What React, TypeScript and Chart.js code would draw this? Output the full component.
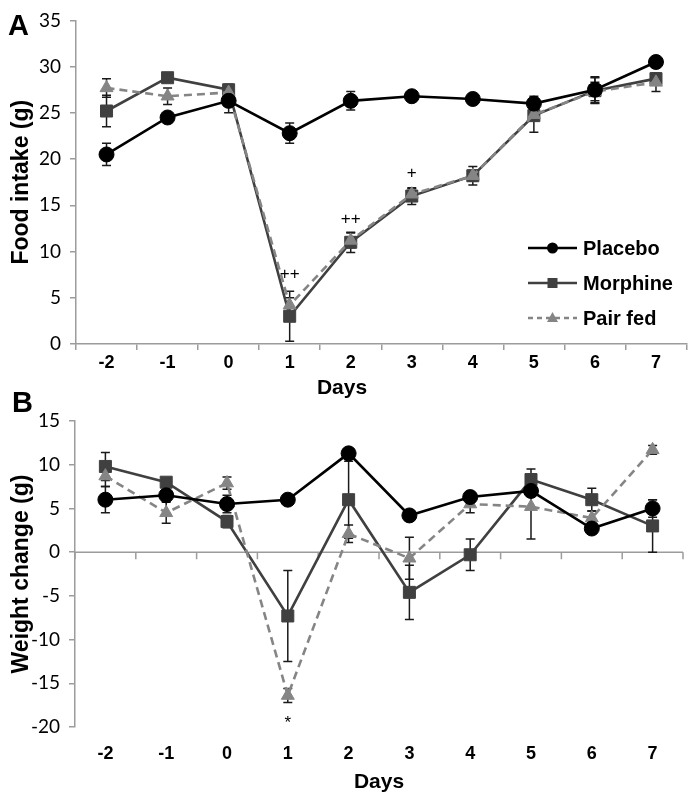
import React, { useEffect, useRef } from 'react';
import { Chart, registerables } from 'chart.js';

Chart.register(...registerables);

// ---------- data ----------
const days = ['-2', '-1', '0', '1', '2', '3', '4', '5', '6', '7'];
const seriesNames = ['Placebo', 'Morphine', 'Pair fed'];

// Panel A: food intake (g)
const placeboFood = [20.5, 24.5, 26.3, 22.8, 26.3, 26.8, 26.5, 26.0, 27.5, 30.5];
const placeboFoodErr = [1.2, 0.3, 1.3, 1.1, 1.0, 0.3, 0.3, 0.8, 1.4, 0.4];
const morphineFood = [25.2, 28.8, 27.5, 3.0, 11.0, 16.0, 18.2, 24.7, 27.4, 28.7];
const morphineFoodErr = [1.7, 0.3, 0.6, 2.7, 1.1, 0.9, 1.0, 1.8, 1.4, 0.3];
const pairFedFood = [27.7, 26.8, 27.2, 4.2, 11.2, 16.2, 18.2, 24.8, 27.3, 28.3];
const pairFedFoodErr = [1.0, 0.9, 0.4, 0.8, 0.8, 0.6, 0.6, 0.6, 1.0, 1.0];

// Panel B: weight change (g)
const placeboWeight = [6.0, 6.5, 5.5, 6.0, 11.3, 4.2, 6.3, 7.0, 2.7, 5.0];
const placeboWeightErr = [1.5, 0.5, 1.0, 0.3, 0.5, 0.3, 0.3, 0.3, 0.3, 1.0];
const morphineWeight = [9.8, 8.0, 3.5, -7.3, 6.0, -4.6, -0.3, 8.3, 6.0, 3.0];
const morphineWeightErr = [1.6, 0.4, 0.7, 5.2, 4.4, 3.1, 1.8, 1.2, 1.3, 3.0];
const pairFedWeight = [8.7, 4.5, 7.9, -16.4, 2.1, -0.7, 5.5, 5.2, 3.9, 11.7];
const pairFedWeightErr = [1.2, 1.2, 0.7, 0.8, 1.0, 2.4, 1.0, 3.7, 0.8, 0.5];

// y-axis ranges / ticks
const foodMin = 0;
const foodMax = 35;
const weightMin = -20;
const weightMax = 15;
const yStep = 5;

// significance marks
const foodMarkLabels = ['++', '++', '+'];
const foodMarkDays = ['1', '2', '3'];
const foodMarkValues = [7.5, 13.5, 18.5];
const weightMarkLabels = ['*'];
const weightMarkDays = ['1'];
const weightMarkValues = [-19.6];

// ---------- styles ----------
const BOLD = "'Liberation Sans', Arial, sans-serif";
const REG = "Lato, 'Open Sans', sans-serif";
const AXIS_GRAY = '#9c9c9c';
const COLORS = ['#000000', '#404040', '#858585'];
const STYLES = ['circle', 'rect', 'triangle'];
const RADII = [7.5, 8.5, 7.5];

function makeDatasets(values: number[][], errors: number[][]) {
  return values.map((data, i) => ({
    label: seriesNames[i],
    data,
    errors: errors[i],
    borderColor: COLORS[i],
    backgroundColor: COLORS[i],
    pointBackgroundColor: COLORS[i],
    pointBorderColor: COLORS[i],
    pointBorderWidth: 1,
    pointStyle: STYLES[i],
    pointRadius: RADII[i],
    pointHoverRadius: RADII[i],
    borderWidth: 2.6,
    borderDash: i === 2 ? [8, 5] : [],
    tension: 0,
    order: [0, 2, 1][i],
  }));
}

const errorBarPlugin = {
  id: 'errorBars',
  beforeDatasetsDraw(chart: any) {
    const ctx = chart.ctx;
    const ys = chart.scales.y;
    chart.data.datasets.forEach((ds: any, i: number) => {
      const errs = ds.errors;
      if (!errs) return;
      const meta = chart.getDatasetMeta(i);
      ctx.save();
      ctx.strokeStyle = '#1a1a1a';
      ctx.lineWidth = 1.5;
      ctx.setLineDash([]);
      meta.data.forEach((pt: any, j: number) => {
        const v = ds.data[j];
        const e = errs[j];
        const x = pt.x;
        const yt = ys.getPixelForValue(v + e);
        const yb = ys.getPixelForValue(v - e);
        ctx.beginPath();
        ctx.moveTo(x, yt);
        ctx.lineTo(x, yb);
        ctx.moveTo(x - 4.5, yt);
        ctx.lineTo(x + 4.5, yt);
        ctx.moveTo(x - 4.5, yb);
        ctx.lineTo(x + 4.5, yb);
        ctx.stroke();
      });
      ctx.restore();
    });
  },
};

function marksPlugin(labels: string[], markDays: string[], values: number[]) {
  return {
    id: 'marks',
    afterDatasetsDraw(chart: any) {
      const ctx = chart.ctx;
      const xs = chart.scales.x;
      const ys = chart.scales.y;
      ctx.save();
      ctx.fillStyle = '#000';
      ctx.font = "17px 'Liberation Sans', Arial, sans-serif";
      ctx.textAlign = 'center';
      ctx.textBaseline = 'middle';
      labels.forEach((t, i) => {
        const x = xs.getPixelForValue(days.indexOf(markDays[i]));
        const y = ys.getPixelForValue(values[i]);
        ctx.fillText(t, x, y);
      });
      ctx.restore();
    },
  };
}

function panelLetterPlugin(letter: string, x: number, y: number) {
  return {
    id: 'panelLetter',
    afterDraw(chart: any) {
      const ctx = chart.ctx;
      ctx.save();
      ctx.fillStyle = '#000';
      ctx.font = `bold 29px ${BOLD}`;
      ctx.textAlign = 'left';
      ctx.textBaseline = 'alphabetic';
      ctx.fillText(letter, x, y);
      ctx.restore();
    },
  };
}

const daysTitleAPlugin = {
  id: 'daysTitleA',
  afterDraw(chart: any) {
    const ctx = chart.ctx;
    ctx.save();
    ctx.fillStyle = '#000';
    ctx.font = `bold 21px ${BOLD}`;
    ctx.textAlign = 'center';
    ctx.textBaseline = 'middle';
    ctx.fillText('Days', 342, 388);
    ctx.restore();
  },
};

const legendPlugin = {
  id: 'customLegend',
  afterDraw(chart: any) {
    const ctx = chart.ctx;
    const rows = [248, 283, 318];
    const x0 = 528;
    const x1 = 577;
    const xm = (x0 + x1) / 2;
    ctx.save();
    seriesNames.forEach((name, i) => {
      const y = rows[i];
      ctx.strokeStyle = COLORS[i];
      ctx.fillStyle = COLORS[i];
      ctx.lineWidth = 2.5;
      ctx.setLineDash(i === 2 ? [5, 4] : []);
      ctx.beginPath();
      ctx.moveTo(x0, y);
      ctx.lineTo(x1, y);
      ctx.stroke();
      ctx.setLineDash([]);
      ctx.beginPath();
      if (i === 0) {
        ctx.arc(xm, y, 5.5, 0, Math.PI * 2);
      } else if (i === 1) {
        ctx.rect(xm - 5, y - 5, 10, 10);
      } else {
        ctx.moveTo(xm, y - 6);
        ctx.lineTo(xm + 5.5, y + 4);
        ctx.lineTo(xm - 5.5, y + 4);
        ctx.closePath();
      }
      ctx.fill();
      ctx.fillStyle = '#000';
      ctx.font = `bold 20px ${BOLD}`;
      ctx.textAlign = 'left';
      ctx.textBaseline = 'middle';
      ctx.fillText(name, 583, y + 1);
    });
    ctx.restore();
  },
};

const zeroLinePlugin = {
  id: 'zeroLine',
  beforeDatasetsDraw(chart: any) {
    const ctx = chart.ctx;
    const xs = chart.scales.x;
    const ys = chart.scales.y;
    const y0 = ys.getPixelForValue(0);
    const { left, right } = chart.chartArea;
    ctx.save();
    ctx.strokeStyle = AXIS_GRAY;
    ctx.lineWidth = 1.5;
    ctx.beginPath();
    ctx.moveTo(left, y0);
    ctx.lineTo(right, y0);
    for (let k = 0; k <= days.length; k++) {
      const x = xs.getPixelForValue(k - 0.5);
      ctx.moveTo(x, y0);
      ctx.lineTo(x, y0 + 7);
    }
    ctx.stroke();
    ctx.restore();
  },
};

function yAxis(min: number, max: number, title: string, width: number) {
  return {
    min,
    max,
    ticks: { stepSize: yStep, font: { family: REG, size: 19 }, color: '#000', padding: 9 },
    grid: { drawOnChartArea: false, drawTicks: true, tickLength: 6, color: AXIS_GRAY, lineWidth: 1.5 },
    border: { display: true, color: AXIS_GRAY, width: 1.5 },
    title: {
      display: true,
      text: title,
      font: { family: BOLD, size: 23, weight: 'bold' },
      color: '#000',
      padding: { top: 8, bottom: 0 },
    },
    afterFit: (s: any) => {
      s.width = width;
    },
  };
}

export default function App() {
  const refA = useRef<HTMLCanvasElement>(null);
  const refB = useRef<HTMLCanvasElement>(null);

  useEffect(() => {
    const chartA = new Chart(refA.current as HTMLCanvasElement, {
      type: 'line',
      data: {
        labels: days,
        datasets: makeDatasets(
          [placeboFood, morphineFood, pairFedFood],
          [placeboFoodErr, morphineFoodErr, pairFedFoodErr]
        ) as any,
      },
      options: {
        responsive: false,
        maintainAspectRatio: false,
        animation: false,
        layout: { padding: { top: 11, right: 6, left: 0, bottom: 0 } },
        plugins: { legend: { display: false }, tooltip: { enabled: false } },
        scales: {
          x: {
            type: 'category',
            offset: true,
            grid: { offset: true, drawOnChartArea: false, drawTicks: true, tickLength: 6, color: AXIS_GRAY, lineWidth: 1.5 },
            border: { display: true, color: AXIS_GRAY, width: 1.5 },
            ticks: { font: { family: BOLD, size: 18, weight: 'bold' }, color: '#000', padding: 2, maxRotation: 0, autoSkip: false },
            afterFit: (s: any) => {
              s.height = 56;
            },
          },
          y: yAxis(foodMin, foodMax, 'Food intake (g)', 76),
        } as any,
      },
      plugins: [
        errorBarPlugin,
        marksPlugin(foodMarkLabels, foodMarkDays, foodMarkValues),
        legendPlugin,
        daysTitleAPlugin,
        panelLetterPlugin('A', 8, 35),
      ],
    });

    const chartB = new Chart(refB.current as HTMLCanvasElement, {
      type: 'line',
      data: {
        labels: days,
        datasets: makeDatasets(
          [placeboWeight, morphineWeight, pairFedWeight],
          [placeboWeightErr, morphineWeightErr, pairFedWeightErr]
        ) as any,
      },
      options: {
        responsive: false,
        maintainAspectRatio: false,
        animation: false,
        layout: { padding: { top: 33, right: 13, left: 0, bottom: 0 } },
        plugins: { legend: { display: false }, tooltip: { enabled: false } },
        scales: {
          x: {
            type: 'category',
            offset: true,
            grid: { display: false },
            border: { display: false },
            ticks: { font: { family: BOLD, size: 18, weight: 'bold' }, color: '#000', padding: 8, maxRotation: 0, autoSkip: false },
            title: {
              display: true,
              text: 'Days',
              font: { family: BOLD, size: 21, weight: 'bold' },
              color: '#000',
              padding: { top: 0, bottom: 5 },
            },
            afterFit: (s: any) => {
              s.height = 73;
            },
          },
          y: yAxis(weightMin, weightMax, 'Weight change (g)', 75),
        } as any,
      },
      plugins: [
        zeroLinePlugin,
        errorBarPlugin,
        marksPlugin(weightMarkLabels, weightMarkDays, weightMarkValues),
        panelLetterPlugin('B', 12, 24),
      ],
    });

    return () => {
      chartA.destroy();
      chartB.destroy();
    };
  }, []);

  return (
    <div style={{ position: 'absolute', left: 0, top: 0, width: 696, height: 800, background: '#fff' }}>
      <canvas ref={refA} width={696} height={400} style={{ position: 'absolute', left: 0, top: 0, display: 'block' }} />
      <canvas ref={refB} width={696} height={412} style={{ position: 'absolute', left: 0, top: 388, display: 'block' }} />
    </div>
  );
}
